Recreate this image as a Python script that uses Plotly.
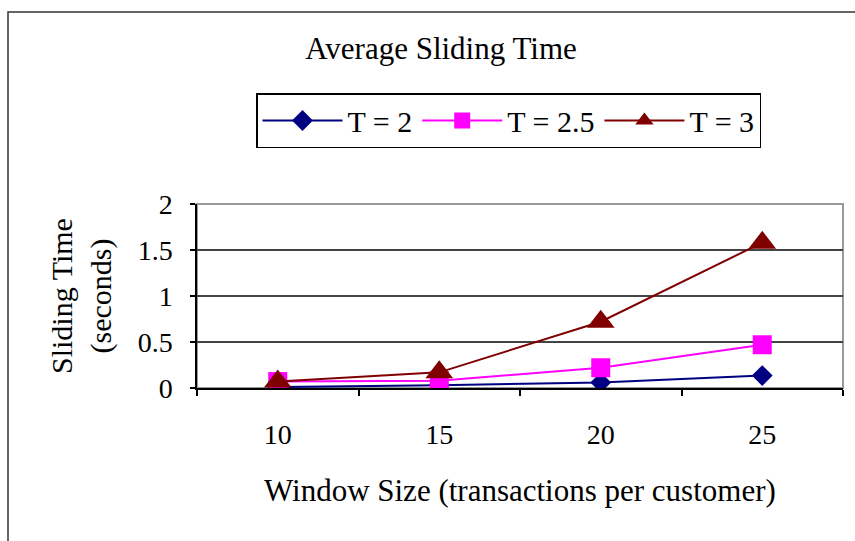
import plotly.graph_objects as go

categories = ["10", "15", "20", "25"]
t2 = [0.01, 0.03, 0.06, 0.135]
t25 = [0.07, 0.08, 0.22, 0.47]
t3 = [0.07, 0.17, 0.72, 1.58]
y_ticks = [0, 0.5, 1, 1.5, 2]
y_tick_labels = ["0", "0.5", "1", "1.5", "2"]

FONT = "Liberation Serif, Times New Roman, serif"

fig = go.Figure()
fig.add_trace(go.Scatter(x=categories, y=t2, name="T = 2", mode="lines+markers",
                         line=dict(color="#000080", width=2),
                         marker=dict(symbol="diamond", size=16, color="#000080")))
fig.add_trace(go.Scatter(x=categories, y=t25, name="T = 2.5", mode="lines+markers",
                         line=dict(color="#FF00FF", width=2),
                         marker=dict(symbol="square", size=19, color="#FF00FF")))
fig.add_trace(go.Scatter(x=categories, y=t3, name="T = 3", mode="lines+markers",
                         line=dict(color="#800000", width=2),
                         marker=dict(symbol="triangle-up", size=24, color="#800000")))

W, H = 855, 541
L, R, T, B = 197, 12, 204, 153
pw, ph = W - L - R, H - T - B

def px(xp):
    return (xp - L) / pw

def py(yp):
    return (H - B - yp) / ph

fig.update_layout(
    width=W, height=H,
    margin=dict(l=L, r=R, t=T, b=B, autoexpand=False),
    paper_bgcolor="white", plot_bgcolor="white",
    font=dict(family=FONT, color="black", size=28),
    title=dict(text="Average Sliding Time", x=441 / W, xanchor="center",
               y=1 - 48 / H, yanchor="middle", font=dict(size=31, family=FONT)),
    showlegend=True,
    legend=dict(orientation="h", x=px(256), y=py(93), xanchor="left", yanchor="top",
                bordercolor="black", borderwidth=1.5, bgcolor="white",
                font=dict(size=30, family=FONT), itemwidth=80,
                tracegroupgap=0),
    xaxis=dict(type="category", showline=True, linecolor="black", linewidth=1.5,
               ticks="outside", ticklen=6, tickcolor="black", tickwidth=1.5,
               tickson="boundaries", showgrid=False, ticklabelstandoff=21,
               tickfont=dict(size=28, family=FONT), range=[-0.5, 3.5]),
    yaxis=dict(range=[0, 2], tickvals=y_ticks, ticktext=y_tick_labels,
               showline=True, linecolor="black", linewidth=1.5,
               ticks="outside", ticklen=5, tickcolor="black", tickwidth=1.5,
               showgrid=True, gridcolor="#444444", gridwidth=1.5,
               zeroline=False, ticklabelstandoff=12,
               tickfont=dict(size=28, family=FONT)),
    shapes=[
        dict(type="rect", xref="paper", yref="paper", x0=0, x1=1, y0=0, y1=1,
             line=dict(color="#999999", width=2), layer="below"),
        dict(type="rect", xref="paper", yref="paper", x0=px(8), x1=px(900),
             y0=py(600), y1=py(12), line=dict(color="#333333", width=1.5),
             layer="below"),
    ],
    annotations=[
        dict(text="Sliding Time<br>(seconds)", xref="paper", yref="paper",
             x=px(81), y=0.5, xanchor="center", yanchor="middle", textangle=-90,
             showarrow=False, font=dict(size=30, family=FONT)),
        dict(text="Window Size (transactions per customer)", xref="paper", yref="paper",
             x=0.5, y=py(490), xanchor="center", yanchor="middle",
             showarrow=False, font=dict(size=31, family=FONT)),
    ],
)

fig.write_html("out.html", config={"displayModeBar": False},
               post_script="document.body.style.margin='0';document.body.style.overflow='hidden';")
